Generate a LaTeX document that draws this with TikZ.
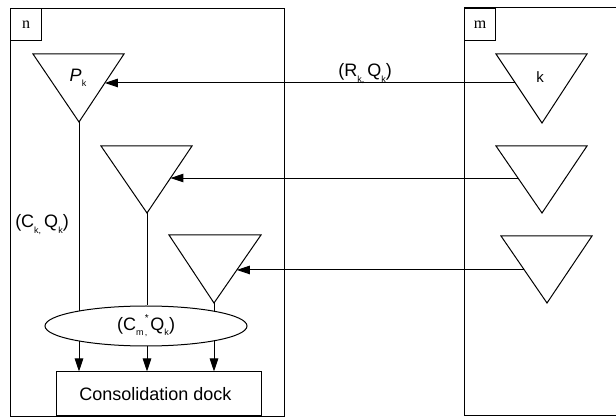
\documentclass[tikz,border=0pt]{standalone}
\usepackage{fontspec}
\setmainfont{Liberation Sans}
\newfontfamily\seriffont{Liberation Serif}
\usetikzlibrary{arrows.meta,shapes.geometric,calc}
\newcommand\sbs[1]{\raisebox{-0.55ex}{\fontsize{9}{9}\selectfont #1}}
\begin{document}
\begin{tikzpicture}[x=1pt,y=-1pt, line width=1pt,
  arr/.style={-{Triangle[length=13pt,width=8.5pt]}},
  lbl/.style={font=\fontsize{18}{20}\selectfont, inner sep=0},
  tagbox/.style={draw, minimum width=31, minimum height=32, inner sep=0, anchor=north west, font=\seriffont\fontsize{16}{16}\selectfont},
  frame/.style={draw, inner sep=0, anchor=north west},
  tri/.style={line join=miter}
]
\useasboundingbox (0,0) rectangle (616,419);

% frames
\node[frame, minimum width=274, minimum height=408] (nbox) at (10,8) {};
\draw (618,8) -| (464,416) -- (618,416);
\node[tagbox] (ntag) at (10,8) {n};
\node[tagbox] (mtag) at (464,8) {m};

% left triangles
\coordinate (L1l) at (33,54);  \coordinate (L1r) at (124,54); \coordinate (L1a) at (79,122);
\coordinate (L2l) at (101,146); \coordinate (L2r) at (192,146); \coordinate (L2a) at (147,213);
\coordinate (L3l) at (169,235); \coordinate (L3r) at (261,235); \coordinate (L3a) at (214,303);
% right triangles
\coordinate (R1l) at (496,54);  \coordinate (R1r) at (587,54); \coordinate (R1a) at (542,123);
\coordinate (R2l) at (496,146); \coordinate (R2r) at (587,146); \coordinate (R2a) at (542,213);
\coordinate (R3l) at (501,236); \coordinate (R3r) at (592,236); \coordinate (R3a) at (547,303);

\foreach \t in {L1,L2,L3,R1,R2,R3}
  \draw[tri] (\t l) -- (\t r) -- (\t a) -- cycle;

\node[lbl] (pk) at (78,78) {\textit{P}\sbs{k}};
\node[font=\fontsize{15}{15}\selectfont, inner sep=0] (k) at (540,77) {k};

% edge points
\coordinate (L1e) at ($(L1r)!0.426!(L1a)$);
\coordinate (L2e) at ($(L2r)!0.478!(L2a)$);
\coordinate (L3e) at ($(L3r)!0.515!(L3a)$);
\coordinate (R1e) at ($(R1l)!0.42!(R1a)$);
\coordinate (R2e) at ($(R2l)!0.478!(R2a)$);
\coordinate (R3e) at ($(R3l)!0.507!(R3a)$);

\draw[arr] (R1e) -- (R1e -| L1e);
\draw[arr] (R2e) -- (R2e -| L2e);
\draw[arr] (R3e) -- (R3e -| L3e);

% ellipse and dock
\node[draw, ellipse, minimum width=202, minimum height=40, lbl] (ell) at (146,326)
  {(C\sbs{m\,}\makebox[0pt][l]{\raisebox{0.9ex}{\fontsize{10}{10}\selectfont *}}\sbs{,}\,Q\sbs{k})};
\node[draw, minimum width=205, minimum height=44, lbl] (dock) at (158.5,394) {\hspace*{-6pt}Consolidation dock};

\draw (L1a) -- (L1a |- ell.167.4);
\draw (L2a) -- (L2a |- ell.north);
\draw (L3a) -- (L3a |- ell.12.3);

\draw[arr] (L1a |- ell.-167.4) -- (L1a |- dock.north);
\draw[arr] (L2a |- ell.south) -- (L2a |- dock.north);
\draw[arr] (L3a |- ell.-12.3) -- (L3a |- dock.north);

% labels
\node[lbl, anchor=base] (rq) at (365,77) {(R\sbs{k,}\,Q\sbs{k})};
\node[lbl, anchor=base] (cq) at (42,228) {(C\sbs{k,}\,Q\sbs{k})};
\end{tikzpicture}
\end{document}
